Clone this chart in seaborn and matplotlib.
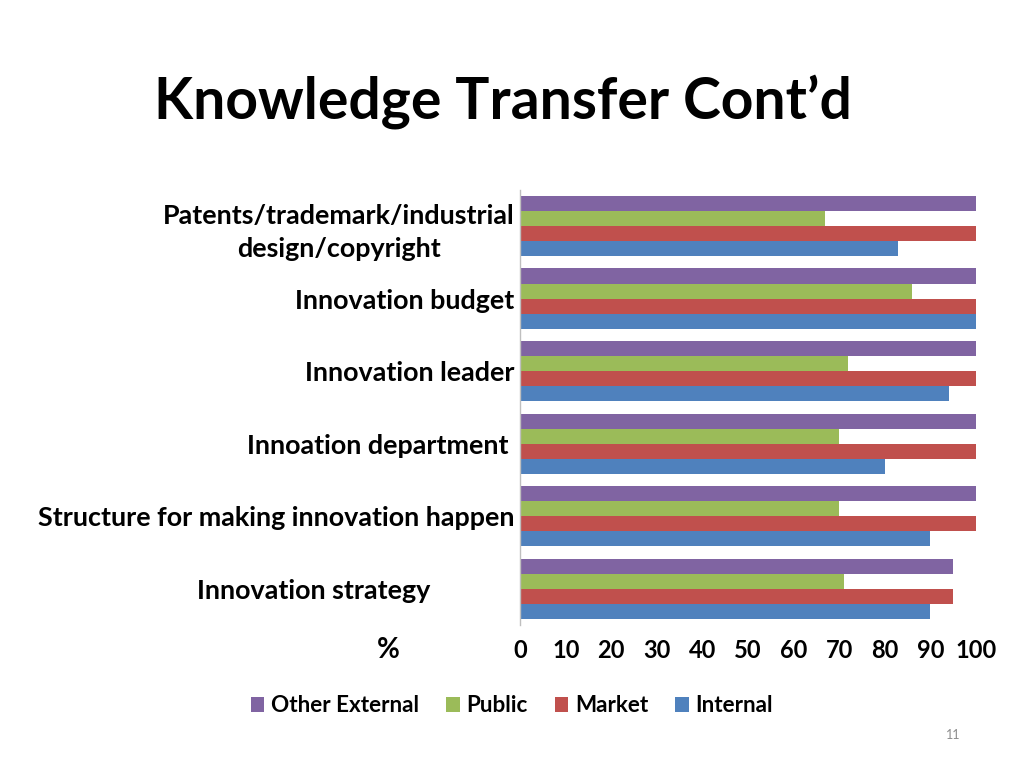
import pandas as pd
import matplotlib.pyplot as plt
import seaborn as sns

# data (percent)
kategori = ['Patents/trademark/industrial\ndesign/copyright', 'Innovation budget', 'Innovation leader',
            'Innoation department ', 'Structure for making innovation happen', 'Innovation strategy             ']
sumber = ['Other External', 'Public', 'Market', 'Internal']
other_external = [100, 100, 100, 100, 100, 95]
public = [67, 86, 72, 70, 70, 71]
market = [100, 100, 100, 100, 100, 95]
internal = [83, 100, 94, 80, 90, 90]
warna = ['#8064A2', '#9BBB59', '#C0504D', '#4F81BD']

data = pd.DataFrame({'Kategori': kategori, 'Other External': other_external, 'Public': public,
                     'Market': market, 'Internal': internal})
data = data.melt(id_vars='Kategori', var_name='Sumber', value_name='Nilai')

sns.set_style('white')
plt.rcParams['font.family'] = ['Lato', 'DejaVu Sans']
plt.rcParams['font.weight'] = 'bold'
plt.rcParams['text.color'] = 'black'
plt.rcParams['xtick.color'] = 'black'
plt.rcParams['ytick.color'] = 'black'

fig = plt.figure(figsize=(10.24, 7.68), dpi=100)
ax = fig.add_axes([0.508, 0.186, 0.445, 0.567])
sns.barplot(data=data, x='Nilai', y='Kategori', hue='Sumber', hue_order=sumber,
            palette=warna, order=kategori, width=0.83, ax=ax, saturation=1, linewidth=0)

ax.set_xlim(0, 100)
ax.set_xticks(range(0, 101, 10))
ax.set_xlabel('')
ax.set_ylabel('')
ax.tick_params(axis='x', labelsize=17, length=0, pad=10)
ax.tick_params(axis='y', labelsize=19.4, length=0, pad=4)
for lbl in ax.get_yticklabels():
    lbl.set_multialignment('center')
    lbl.set_linespacing(1.45)
for s in ['top', 'right', 'bottom']:
    ax.spines[s].set_visible(False)
ax.spines['left'].set_color('#BFBFBF')
ax.spines['left'].set_linewidth(1)

ax.legend(loc='center', bbox_to_anchor=(0.5, 0.081), bbox_transform=fig.transFigure,
          ncol=4, frameon=False, fontsize=16.2, handlelength=0.6, handleheight=0.6,
          handletextpad=0.3, columnspacing=1.2)

fig.text(0.491, 0.868, 'Knowledge Transfer Cont’d', ha='center', va='center',
         fontsize=41, fontweight='bold')
fig.text(0.379, 0.153, '%', ha='center', va='center', fontsize=20, fontweight='bold')
fig.text(0.931, 0.043, '11', ha='center', va='center', fontsize=9, color='#8C8C8C',
         fontweight='normal')

plt.savefig('out.png', dpi=100)
